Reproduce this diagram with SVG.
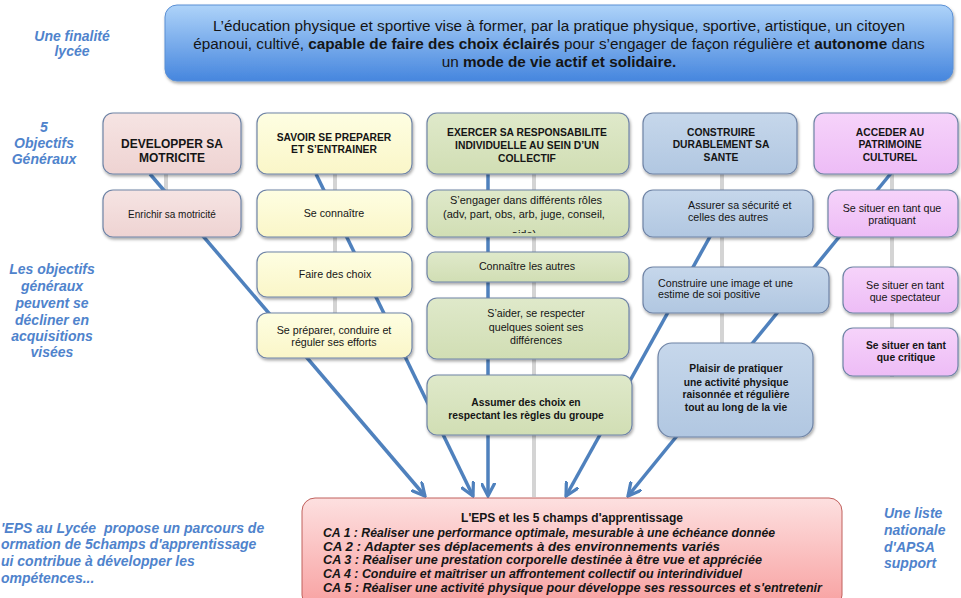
<svg xmlns="http://www.w3.org/2000/svg" width="961" height="598" viewBox="0 0 961 598">
<defs>
<style>
text{font-family:"Liberation Sans",Arial,sans-serif;fill:#151515}
.box{stroke:#6f84a6;stroke-width:1.2;filter:url(#sh)}
.t{font-size:10.7px;text-anchor:middle}
.l{font-size:10.7px;text-anchor:start}
.b{font-size:10.3px;font-weight:bold;text-anchor:middle}
.lbl{font-size:14px;font-weight:bold;font-style:italic;fill:#4f83cc;text-anchor:middle}
.lbs{font-size:14px;font-weight:bold;font-style:italic;fill:#4f83cc}
.ban{font-size:15.3px;text-anchor:middle}
.ca{font-size:12.5px;font-weight:bold;font-style:italic}
.grey{stroke:#d4d4d4;stroke-width:4;fill:none}
.blue{stroke:#4f81bd;stroke-width:3.5;fill:none}
.arr{marker-end:url(#ah)}
</style>
<filter id="sh" x="-10%" y="-10%" width="120%" height="130%">
<feDropShadow dx="1" dy="2" stdDeviation="1.5" flood-color="#000" flood-opacity="0.35"/>
</filter>
<linearGradient id="gBan" x1="0" y1="0" x2="0" y2="1"><stop offset="0" stop-color="#aed3f9"/><stop offset="1" stop-color="#4686de"/></linearGradient>
<linearGradient id="gPk" x1="0" y1="0" x2="0" y2="1"><stop offset="0" stop-color="#f6e4e3"/><stop offset="1" stop-color="#eed3d2"/></linearGradient>
<linearGradient id="gYe" x1="0" y1="0" x2="0" y2="1"><stop offset="0" stop-color="#fefee2"/><stop offset="1" stop-color="#faf6c8"/></linearGradient>
<linearGradient id="gGr" x1="0" y1="0" x2="0" y2="1"><stop offset="0" stop-color="#dfe9ca"/><stop offset="1" stop-color="#d1deb4"/></linearGradient>
<linearGradient id="gBl" x1="0" y1="0" x2="0" y2="1"><stop offset="0" stop-color="#c6d7eb"/><stop offset="1" stop-color="#b1c7e1"/></linearGradient>
<linearGradient id="gVi" x1="0" y1="0" x2="0" y2="1"><stop offset="0" stop-color="#f6d3fa"/><stop offset="1" stop-color="#edbcf6"/></linearGradient>
<linearGradient id="gRd" x1="0" y1="0" x2="0" y2="1"><stop offset="0" stop-color="#fde0e0"/><stop offset="1" stop-color="#f8a0a0"/></linearGradient>
<marker id="ah" viewBox="0 0 14 14" refX="12.5" refY="7" markerWidth="15" markerHeight="15" markerUnits="userSpaceOnUse" orient="auto">
<path d="M1,1 L12.5,7 L1,13" fill="none" stroke="#4f81bd" stroke-width="3" stroke-linecap="round"/>
</marker>
<clipPath id="clipEng"><rect x="427" y="190" width="202" height="43"/></clipPath>
</defs>
<rect width="961" height="598" fill="#fff"/>

<!-- side labels -->
<g id="labels">
<text class="lbl" x="72" y="41">Une finalité</text>
<text class="lbl" x="72" y="56">lycée</text>
<text class="lbl" x="44" y="132">5</text>
<text class="lbl" x="44" y="148">Objectifs</text>
<text class="lbl" x="44" y="164">Généraux</text>
<text class="lbl" x="52" y="274">Les objectifs</text>
<text class="lbl" x="52" y="291">généraux</text>
<text class="lbl" x="52" y="308">peuvent se</text>
<text class="lbl" x="52" y="325">décliner en</text>
<text class="lbl" x="52" y="341">acquisitions</text>
<text class="lbl" x="52" y="357">visées</text>
<text class="lbs" x="1" y="533" xml:space="preserve">'EPS au Lycée  propose un parcours de</text>
<text class="lbs" x="1" y="549">ormation de 5champs d'apprentissage</text>
<text class="lbs" x="1" y="566">ui contribue à développer les</text>
<text class="lbs" x="1" y="583">ompétences...</text>
<text class="lbs" x="884" y="518">Une liste</text>
<text class="lbs" x="884" y="535">nationale</text>
<text class="lbs" x="884" y="552">d'APSA</text>
<text class="lbs" x="884" y="568">support</text>
</g>

<!-- connectors -->
<g id="connectors">
<line class="grey" x1="166" y1="174" x2="166" y2="190"/>
<line class="grey" x1="335" y1="174" x2="335" y2="313"/>
<line class="grey" x1="534" y1="174" x2="534" y2="497"/>
<line class="grey" x1="722" y1="174" x2="722" y2="343"/>
<line class="grey" x1="892" y1="174" x2="892" y2="377"/>
<line class="blue arr" x1="150" y1="174" x2="425" y2="496"/>
<line class="blue arr" x1="316" y1="174" x2="473" y2="496"/>
<line class="blue arr" x1="488" y1="174" x2="488" y2="496"/>
<line class="blue arr" x1="722" y1="215" x2="566" y2="496"/>
<line class="blue arr" x1="892" y1="172" x2="628" y2="496"/>
</g>

<!-- banner -->
<g id="finalite">
<rect x="165" y="5" width="788" height="76" rx="12" fill="url(#gBan)" stroke="#5a8fd4" stroke-width="1" style="filter:url(#sh)"/>
<text class="ban" x="559" y="31">L’éducation physique et sportive vise à former, par la pratique physique, sportive, artistique, un citoyen</text>
<text class="ban" x="559" y="49">épanoui, cultivé, <tspan font-weight="bold">capable de faire des choix éclairés</tspan> pour s’engager de façon régulière et <tspan font-weight="bold">autonome</tspan> dans</text>
<text class="ban" x="559" y="67">un <tspan font-weight="bold">mode de vie actif et solidaire.</tspan></text>
</g>

<!-- column 1 -->
<g id="obj-motricite">
<rect class="box" x="103" y="113" width="138" height="61" rx="10" fill="url(#gPk)"/>
<text class="b" x="172" y="148" style="font-size:12px">DEVELOPPER SA</text>
<text class="b" x="172" y="162" style="font-size:12px">MOTRICITE</text>
</g>
<g id="acq-enrichir">
<rect class="box" x="103" y="190" width="138" height="47" rx="10" fill="url(#gPk)"/>
<text class="t" x="172" y="218" style="font-size:10px">Enrichir sa motricité</text>
</g>

<!-- column 2 -->
<g id="obj-preparer">
<rect class="box" x="257" y="113" width="155" height="61" rx="10" fill="url(#gYe)"/>
<text class="b" x="334" y="141">SAVOIR SE PREPARER</text>
<text class="b" x="334" y="153">ET S’ENTRAINER</text>
</g>
<g id="acq-connaitre">
<rect class="box" x="257" y="190" width="155" height="47" rx="10" fill="url(#gYe)"/>
<text class="t" x="334" y="217">Se connaître</text>
</g>
<g id="acq-choix">
<rect class="box" x="257" y="252" width="155" height="45" rx="10" fill="url(#gYe)"/>
<text class="t" x="335" y="278">Faire des choix</text>
</g>
<g id="acq-efforts">
<rect class="box" x="257" y="313" width="155" height="45" rx="10" fill="url(#gYe)"/>
<text class="t" x="334" y="334">Se préparer, conduire et</text>
<text class="t" x="334" y="346">réguler ses efforts</text>
</g>

<!-- column 3 -->
<g id="obj-responsabilite">
<rect class="box" x="427" y="113" width="202" height="61" rx="10" fill="url(#gGr)"/>
<text class="b" x="527" y="136">EXERCER SA RESPONSABILITE</text>
<text class="b" x="527" y="149">INDIVIDUELLE AU SEIN D’UN</text>
<text class="b" x="527" y="162">COLLECTIF</text>
</g>
<g id="acq-roles">
<rect class="box" x="427" y="190" width="202" height="47" rx="10" fill="url(#gGr)"/>
<g clip-path="url(#clipEng)">
<text class="t" x="526" y="204" style="font-size:11px">S’engager dans différents rôles</text>
<text class="t" x="524" y="218" style="font-size:11px">(adv, part, obs, arb, juge, conseil,</text>
<text class="t" x="524" y="238" style="font-size:11px">aide)</text>
</g>
</g>
<g id="acq-autres">
<rect class="box" x="427" y="252" width="202" height="30" rx="8" fill="url(#gGr)"/>
<text class="t" x="527" y="270">Connaître les autres</text>
</g>
<g id="acq-aider">
<rect class="box" x="427" y="298" width="202" height="61" rx="10" fill="url(#gGr)"/>
<text class="t" x="536" y="317">S’aider, se respecter</text>
<text class="t" x="536" y="331">quelques soient ses</text>
<text class="t" x="536" y="344">différences</text>
</g>
<g id="acq-regles">
<rect class="box" x="427" y="375" width="205" height="60" rx="10" fill="url(#gGr)"/>
<text class="b" x="526" y="406">Assumer des choix en</text>
<text class="b" x="526" y="419">respectant les règles du groupe</text>
</g>

<!-- column 4 -->
<g id="obj-sante">
<rect class="box" x="643" y="113" width="154" height="61" rx="10" fill="url(#gBl)"/>
<text class="b" x="721" y="136">CONSTRUIRE</text>
<text class="b" x="721" y="148">DURABLEMENT SA</text>
<text class="b" x="721" y="161">SANTE</text>
</g>
<g id="acq-securite">
<rect class="box" x="643" y="190" width="170" height="47" rx="10" fill="url(#gBl)"/>
<text class="l" x="688" y="209">Assurer sa sécurité et</text>
<text class="l" x="688" y="221">celles des autres</text>
</g>
<g id="acq-image">
<rect class="box" x="643" y="267" width="186" height="46" rx="10" fill="url(#gBl)"/>
<text class="l" x="658" y="287">Construire une image et une</text>
<text class="l" x="658" y="298">estime de soi positive</text>
</g>
<g id="acq-plaisir">
<rect class="box" x="658" y="343" width="155" height="94" rx="14" fill="url(#gBl)"/>
<text class="b" x="736" y="372">Plaisir de pratiquer</text>
<text class="b" x="736" y="386">une activité physique</text>
<text class="b" x="736" y="398">raisonnée et régulière</text>
<text class="b" x="736" y="411">tout au long de la vie</text>
</g>

<!-- column 5 -->
<g id="obj-patrimoine">
<rect class="box" x="814" y="113" width="144" height="61" rx="10" fill="url(#gVi)"/>
<text class="b" x="890" y="136">ACCEDER AU</text>
<text class="b" x="890" y="148">PATRIMOINE</text>
<text class="b" x="890" y="161">CULTUREL</text>
</g>
<g id="acq-pratiquant">
<rect class="box" x="828" y="190" width="130" height="47" rx="10" fill="url(#gVi)"/>
<text class="t" x="892" y="212">Se situer en tant que</text>
<text class="t" x="892" y="224">pratiquant</text>
</g>
<g id="acq-spectateur">
<rect class="box" x="843" y="267" width="115" height="46" rx="10" fill="url(#gVi)"/>
<text class="t" x="905" y="289">Se situer en tant</text>
<text class="t" x="905" y="301">que spectateur</text>
</g>
<g id="acq-critique">
<rect class="box" x="843" y="328" width="115" height="48" rx="10" fill="url(#gVi)"/>
<text class="b" x="906" y="349">Se situer en tant</text>
<text class="b" x="906" y="361">que critique</text>
</g>

<!-- bottom -->
<g id="champs">
<rect x="302" y="498" width="540" height="110" rx="13" fill="url(#gRd)" stroke="#c0605c" stroke-width="1"/>
<text x="572" y="522" style="font-size:12px;font-weight:bold;text-anchor:middle">L'EPS et les 5 champs d'apprentissage</text>
<text class="ca" x="323" y="537" textLength="452" lengthAdjust="spacingAndGlyphs">CA 1 : Réaliser une performance optimale, mesurable à une échéance donnée</text>
<text class="ca" x="323" y="551" textLength="397" lengthAdjust="spacingAndGlyphs">CA 2 : Adapter ses déplacements à des environnements variés</text>
<text class="ca" x="323" y="564" textLength="439" lengthAdjust="spacingAndGlyphs">CA 3 : Réaliser une prestation corporelle destinée à être vue et appréciée</text>
<text class="ca" x="323" y="578" textLength="419" lengthAdjust="spacingAndGlyphs">CA 4 : Conduire et maîtriser un affrontement collectif ou interindividuel</text>
<text class="ca" x="323" y="592" textLength="499" lengthAdjust="spacingAndGlyphs">CA 5 : Réaliser une activité physique pour développe ses ressources et s'entretenir</text>
</g>
</svg>
